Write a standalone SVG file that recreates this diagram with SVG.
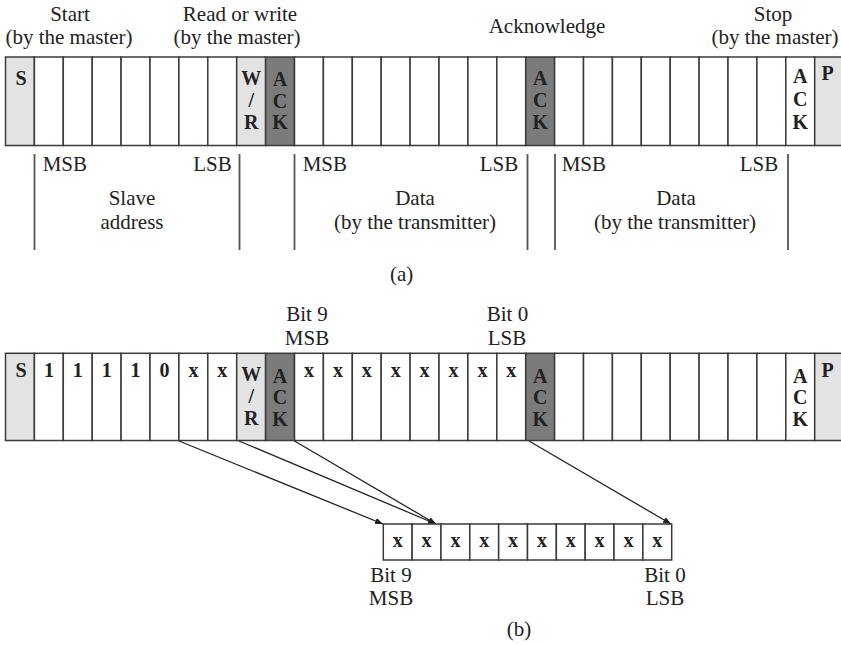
<svg xmlns="http://www.w3.org/2000/svg" width="841" height="645" viewBox="0 0 841 645">
<style>
.c{fill:#fff;stroke:#3a3a3a;stroke-width:1.5}
.lg{fill:#e3e3e3;stroke:#3a3a3a;stroke-width:1.5}
.dg{fill:#7b7b7b;stroke:#3a3a3a;stroke-width:1.5}
.t{font-family:"Liberation Serif","Times New Roman",serif;font-size:21px;fill:#222}
.m{text-anchor:middle}
.e{text-anchor:end}
.b{font-family:"Liberation Serif","Times New Roman",serif;font-size:20px;font-weight:bold;fill:#222;text-anchor:middle}
.v{stroke:#555;stroke-width:1.8}
.a{stroke:#222;stroke-width:1.3;fill:none}
</style>
<defs>
<marker id="ah" viewBox="0 0 10 10" refX="10" refY="5" markerWidth="8" markerHeight="8" markerUnits="userSpaceOnUse" orient="auto">
<path d="M0,1 L10,5 L0,9 Z" fill="#222"/>
</marker>
</defs>

<!-- (a) labels above -->
<g id="labels-a-top">
<text class="t m" x="70" y="20.5">Start</text>
<text class="t m" x="69" y="44">(by the master)</text>
<text class="t m" x="240" y="20.5">Read or write</text>
<text class="t m" x="237" y="44">(by the master)</text>
<text class="t m" x="547" y="33">Acknowledge</text>
<text class="t m" x="773" y="20.5">Stop</text>
<text class="t m" x="775" y="44">(by the master)</text>
</g>

<!-- (a) row -->
<g id="row-a">
<g id="a0"><rect class="lg" x="5.5" y="57" width="28.9" height="88.5"/><text class="b" x="21" y="85">S</text></g>
<g id="a1"><rect class="c" x="34.4" y="57" width="28.9" height="88.5"/></g>
<g id="a2"><rect class="c" x="63.3" y="57" width="28.9" height="88.5"/></g>
<g id="a3"><rect class="c" x="92.2" y="57" width="28.9" height="88.5"/></g>
<g id="a4"><rect class="c" x="121.1" y="57" width="28.9" height="88.5"/></g>
<g id="a5"><rect class="c" x="150" y="57" width="28.9" height="88.5"/></g>
<g id="a6"><rect class="c" x="178.9" y="57" width="28.9" height="88.5"/></g>
<g id="a7"><rect class="c" x="207.8" y="57" width="28.9" height="88.5"/></g>
<g id="a8"><rect class="lg" x="236.7" y="57" width="28.9" height="88.5"/><text class="b" x="251.2" y="85">W</text><text class="b" x="251.2" y="106.5">/</text><text class="b" x="251.2" y="128.5">R</text></g>
<g id="a9"><rect class="dg" x="265.6" y="57" width="28.9" height="88.5"/><text class="b" x="280" y="86">A</text><text class="b" x="280" y="107.5">C</text><text class="b" x="280" y="129">K</text></g>
<g id="a10"><rect class="c" x="294.5" y="57" width="28.9" height="88.5"/></g>
<g id="a11"><rect class="c" x="323.4" y="57" width="28.9" height="88.5"/></g>
<g id="a12"><rect class="c" x="352.3" y="57" width="28.9" height="88.5"/></g>
<g id="a13"><rect class="c" x="381.2" y="57" width="28.9" height="88.5"/></g>
<g id="a14"><rect class="c" x="410.1" y="57" width="28.9" height="88.5"/></g>
<g id="a15"><rect class="c" x="439" y="57" width="28.9" height="88.5"/></g>
<g id="a16"><rect class="c" x="467.9" y="57" width="28.9" height="88.5"/></g>
<g id="a17"><rect class="c" x="496.8" y="57" width="28.9" height="88.5"/></g>
<g id="a18"><rect class="dg" x="525.7" y="57" width="28.9" height="88.5"/><text class="b" x="540.2" y="85">A</text><text class="b" x="540.2" y="107">C</text><text class="b" x="540.2" y="128.5">K</text></g>
<g id="a19"><rect class="c" x="554.6" y="57" width="28.9" height="88.5"/></g>
<g id="a20"><rect class="c" x="583.5" y="57" width="28.9" height="88.5"/></g>
<g id="a21"><rect class="c" x="612.4" y="57" width="28.9" height="88.5"/></g>
<g id="a22"><rect class="c" x="641.3" y="57" width="28.9" height="88.5"/></g>
<g id="a23"><rect class="c" x="670.2" y="57" width="28.9" height="88.5"/></g>
<g id="a24"><rect class="c" x="699.1" y="57" width="28.9" height="88.5"/></g>
<g id="a25"><rect class="c" x="728" y="57" width="28.9" height="88.5"/></g>
<g id="a26"><rect class="c" x="756.9" y="57" width="28.9" height="88.5"/></g>
<g id="a27"><rect class="c" x="785.8" y="57" width="28.9" height="88.5"/><text class="b" x="800.3" y="83">A</text><text class="b" x="800.3" y="106">C</text><text class="b" x="800.3" y="129">K</text></g>
<g id="a28"><rect class="lg" x="814.7" y="57" width="28.9" height="88.5"/><text class="b" x="827.5" y="80">P</text></g>
</g>

<!-- (a) field markers -->
<g id="fields-a">
<line class="v" x1="34.5" y1="154" x2="34.5" y2="250"/>
<line class="v" x1="239.5" y1="154" x2="239.5" y2="250"/>
<line class="v" x1="294.5" y1="154" x2="294.5" y2="250"/>
<line class="v" x1="527.5" y1="154" x2="527.5" y2="250"/>
<line class="v" x1="555" y1="154" x2="555" y2="250"/>
<line class="v" x1="788" y1="154" x2="788" y2="250"/>
<text class="t" x="42.7" y="170.5">MSB</text>
<text class="t e" x="231.7" y="170.5">LSB</text>
<text class="t m" x="132" y="205">Slave</text>
<text class="t m" x="132" y="228.5">address</text>
<text class="t" x="302.7" y="170.5">MSB</text>
<text class="t e" x="518.3" y="170.5">LSB</text>
<text class="t m" x="415" y="205">Data</text>
<text class="t m" x="415" y="228.5">(by the transmitter)</text>
<text class="t" x="561.7" y="170.5">MSB</text>
<text class="t e" x="778.3" y="170.5">LSB</text>
<text class="t m" x="676" y="205">Data</text>
<text class="t m" x="675" y="228.5">(by the transmitter)</text>
<text class="t m" x="401.7" y="281">(a)</text>
</g>

<!-- (b) labels above -->
<g id="labels-b-top">
<text class="t m" x="307" y="320.7">Bit 9</text>
<text class="t m" x="307" y="345">MSB</text>
<text class="t m" x="507.5" y="320.7">Bit 0</text>
<text class="t m" x="507" y="345">LSB</text>
</g>

<!-- (b) row -->
<g id="row-b">
<g id="b0"><rect class="lg" x="5.5" y="353.3" width="28.9" height="87.2"/><text class="b" x="21" y="377">S</text></g>
<g id="b1"><rect class="c" x="34.4" y="353.3" width="28.9" height="87.2"/><text class="b" x="48.9" y="377">1</text></g>
<g id="b2"><rect class="c" x="63.3" y="353.3" width="28.9" height="87.2"/><text class="b" x="77.8" y="377">1</text></g>
<g id="b3"><rect class="c" x="92.2" y="353.3" width="28.9" height="87.2"/><text class="b" x="106.7" y="377">1</text></g>
<g id="b4"><rect class="c" x="121.1" y="353.3" width="28.9" height="87.2"/><text class="b" x="135.6" y="377">1</text></g>
<g id="b5"><rect class="c" x="150" y="353.3" width="28.9" height="87.2"/><text class="b" x="164.5" y="377">0</text></g>
<g id="b6"><rect class="c" x="178.9" y="353.3" width="28.9" height="87.2"/><text class="b" x="193.4" y="377">x</text></g>
<g id="b7"><rect class="c" x="207.8" y="353.3" width="28.9" height="87.2"/><text class="b" x="222.3" y="377">x</text></g>
<g id="b8"><rect class="lg" x="236.7" y="353.3" width="28.9" height="87.2"/><text class="b" x="251.2" y="381">W</text><text class="b" x="251.2" y="402.5">/</text><text class="b" x="251.2" y="425">R</text></g>
<g id="b9"><rect class="dg" x="265.6" y="353.3" width="28.9" height="87.2"/><text class="b" x="280" y="382.5">A</text><text class="b" x="280" y="404">C</text><text class="b" x="280" y="426">K</text></g>
<g id="b10"><rect class="c" x="294.5" y="353.3" width="28.9" height="87.2"/><text class="b" x="309" y="377">x</text></g>
<g id="b11"><rect class="c" x="323.4" y="353.3" width="28.9" height="87.2"/><text class="b" x="337.9" y="377">x</text></g>
<g id="b12"><rect class="c" x="352.3" y="353.3" width="28.9" height="87.2"/><text class="b" x="366.8" y="377">x</text></g>
<g id="b13"><rect class="c" x="381.2" y="353.3" width="28.9" height="87.2"/><text class="b" x="395.7" y="377">x</text></g>
<g id="b14"><rect class="c" x="410.1" y="353.3" width="28.9" height="87.2"/><text class="b" x="424.6" y="377">x</text></g>
<g id="b15"><rect class="c" x="439" y="353.3" width="28.9" height="87.2"/><text class="b" x="453.5" y="377">x</text></g>
<g id="b16"><rect class="c" x="467.9" y="353.3" width="28.9" height="87.2"/><text class="b" x="482.4" y="377">x</text></g>
<g id="b17"><rect class="c" x="496.8" y="353.3" width="28.9" height="87.2"/><text class="b" x="511.3" y="377">x</text></g>
<g id="b18"><rect class="dg" x="525.7" y="353.3" width="28.9" height="87.2"/><text class="b" x="540.2" y="382.5">A</text><text class="b" x="540.2" y="404">C</text><text class="b" x="540.2" y="426">K</text></g>
<g id="b19"><rect class="c" x="554.6" y="353.3" width="28.9" height="87.2"/></g>
<g id="b20"><rect class="c" x="583.5" y="353.3" width="28.9" height="87.2"/></g>
<g id="b21"><rect class="c" x="612.4" y="353.3" width="28.9" height="87.2"/></g>
<g id="b22"><rect class="c" x="641.3" y="353.3" width="28.9" height="87.2"/></g>
<g id="b23"><rect class="c" x="670.2" y="353.3" width="28.9" height="87.2"/></g>
<g id="b24"><rect class="c" x="699.1" y="353.3" width="28.9" height="87.2"/></g>
<g id="b25"><rect class="c" x="728" y="353.3" width="28.9" height="87.2"/></g>
<g id="b26"><rect class="c" x="756.9" y="353.3" width="28.9" height="87.2"/></g>
<g id="b27"><rect class="c" x="785.8" y="353.3" width="28.9" height="87.2"/><text class="b" x="800.3" y="382.5">A</text><text class="b" x="800.3" y="404">C</text><text class="b" x="800.3" y="426">K</text></g>
<g id="b28"><rect class="lg" x="814.7" y="353.3" width="28.9" height="87.2"/><text class="b" x="827.5" y="377">P</text></g>
</g>

<!-- connectors -->
<g id="connectors">
<line class="a" x1="179" y1="441" x2="383" y2="524" marker-end="url(#ah)"/>
<line class="a" x1="239" y1="441" x2="436" y2="524" marker-end="url(#ah)"/>
<line class="a" x1="294.5" y1="441" x2="436" y2="524" marker-end="url(#ah)"/>
<line class="a" x1="529" y1="441" x2="671" y2="524" marker-end="url(#ah)"/>
</g>

<!-- (b) register -->
<g id="register">
<g id="r0"><rect class="c" x="383.3" y="524" width="28.84" height="36"/><text class="b" x="397.7" y="547">x</text></g>
<g id="r1"><rect class="c" x="412.14" y="524" width="28.84" height="36"/><text class="b" x="426.6" y="547">x</text></g>
<g id="r2"><rect class="c" x="440.98" y="524" width="28.84" height="36"/><text class="b" x="455.4" y="547">x</text></g>
<g id="r3"><rect class="c" x="469.82" y="524" width="28.84" height="36"/><text class="b" x="484.2" y="547">x</text></g>
<g id="r4"><rect class="c" x="498.66" y="524" width="28.84" height="36"/><text class="b" x="513.1" y="547">x</text></g>
<g id="r5"><rect class="c" x="527.5" y="524" width="28.84" height="36"/><text class="b" x="541.9" y="547">x</text></g>
<g id="r6"><rect class="c" x="556.34" y="524" width="28.84" height="36"/><text class="b" x="570.8" y="547">x</text></g>
<g id="r7"><rect class="c" x="585.18" y="524" width="28.84" height="36"/><text class="b" x="599.6" y="547">x</text></g>
<g id="r8"><rect class="c" x="614.02" y="524" width="28.84" height="36"/><text class="b" x="628.4" y="547">x</text></g>
<g id="r9"><rect class="c" x="642.86" y="524" width="28.84" height="36"/><text class="b" x="657.3" y="547">x</text></g>
</g>

<g id="labels-b-bottom">
<text class="t m" x="391" y="581.7">Bit 9</text>
<text class="t m" x="391" y="605">MSB</text>
<text class="t m" x="665" y="581.7">Bit 0</text>
<text class="t m" x="665" y="605">LSB</text>
<text class="t m" x="519" y="636">(b)</text>
</g>
</svg>
